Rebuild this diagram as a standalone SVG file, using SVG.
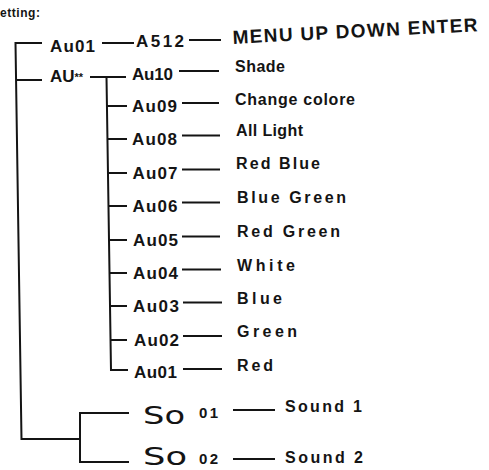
<svg xmlns="http://www.w3.org/2000/svg" width="489" height="470" viewBox="0 0 489 470">
<style>
text{font-family:"Liberation Sans",Arial,sans-serif;font-weight:bold;fill:#141414}
.code{font-size:17px}
.lbl{font-size:16px}
.num{font-size:15px}
.seg{font-size:24px;font-weight:normal;font-family:"DejaVu Sans","Liberation Sans",sans-serif}
#connectors path{fill:none;stroke:#141414;stroke-width:2;stroke-linecap:butt;stroke-linejoin:miter}
</style>
<rect width="489" height="470" fill="#ffffff"/>
<g id="connectors">
<path d="M42 43 H15.5 L21.5 439 H80"/>
<path d="M42 80 H16"/>
<path d="M129 413 H80 V462 H129"/>
<path d="M102 43 H134"/>
<path d="M189 40 H221"/>
<path d="M90 77 H126"/>
<path d="M106.5 77 L111 370 H128"/>
<path d="M107 106 H127"/>
<path d="M107.5 139 H127"/>
<path d="M108 173 H127"/>
<path d="M108.5 206 H127"/>
<path d="M109 240 H127"/>
<path d="M109.5 273 H127"/>
<path d="M110 306 H127"/>
<path d="M110.5 340 H127"/>
<path d="M179 71 H219"/>
<path d="M182 103 H219"/>
<path d="M182 135.5 H220"/>
<path d="M182 169.5 H220"/>
<path d="M182 202.5 H220"/>
<path d="M182 236.5 H220"/>
<path d="M182 269.5 H221"/>
<path d="M183 302.5 H222"/>
<path d="M183 336 H222"/>
<path d="M183 369 H222"/>
<path d="M233 410 H275"/>
<path d="M233 459 H275"/>
</g>
<g id="title"><text x="0" y="17" font-size="12" textLength="40">etting:</text></g>
<g id="au01-top"><text class="code" x="50" y="52" textLength="45">Au01</text></g>
<g id="a512"><text class="code" x="136" y="47" textLength="48">A512</text></g>
<g id="menu"><text x="233" y="44" font-size="19" textLength="245" transform="rotate(-3 233 44)">MENU UP DOWN ENTER</text></g>
<g id="au-group"><text class="code" x="50" y="82">AU<tspan font-size="11" dy="-1">**</tspan></text></g>
<g id="au10"><text class="code" x="132" y="80" textLength="41">Au10</text></g>
<g id="au09"><text class="code" x="132" y="112" textLength="45">Au09</text></g>
<g id="au08"><text class="code" x="132" y="145" textLength="45">Au08</text></g>
<g id="au07"><text class="code" x="132.5" y="179" textLength="45">Au07</text></g>
<g id="au06"><text class="code" x="132.5" y="212" textLength="45">Au06</text></g>
<g id="au05"><text class="code" x="133" y="246" textLength="45">Au05</text></g>
<g id="au04"><text class="code" x="133" y="279" textLength="45">Au04</text></g>
<g id="au03"><text class="code" x="133" y="312" textLength="46">Au03</text></g>
<g id="au02"><text class="code" x="134" y="346" textLength="45">Au02</text></g>
<g id="au01"><text class="code" x="134" y="378" textLength="43">Au01</text></g>
<g id="shade"><text class="lbl" x="235" y="72" textLength="50">Shade</text></g>
<g id="change-colore"><text class="lbl" x="235" y="105" textLength="120">Change colore</text></g>
<g id="all-light"><text class="lbl" x="236" y="136" textLength="67">All Light</text></g>
<g id="red-blue"><text class="lbl" x="236" y="169" textLength="84">Red Blue</text></g>
<g id="blue-green"><text class="lbl" x="237" y="203" textLength="109">Blue Green</text></g>
<g id="red-green"><text class="lbl" x="237" y="237" textLength="103">Red Green</text></g>
<g id="white"><text class="lbl" x="237" y="271" textLength="58">White</text></g>
<g id="blue"><text class="lbl" x="237" y="304" textLength="45">Blue</text></g>
<g id="green"><text class="lbl" x="237" y="337" textLength="60">Green</text></g>
<g id="red"><text class="lbl" x="237" y="371" textLength="36">Red</text></g>
<g id="so01"><text class="seg" x="143" y="424" textLength="42" lengthAdjust="spacingAndGlyphs">So</text><text class="num" x="199" y="418" textLength="19">01</text></g>
<g id="so02"><text class="seg" x="143" y="465" textLength="44" lengthAdjust="spacingAndGlyphs">So</text><text class="num" x="199" y="464" textLength="19">02</text></g>
<g id="sound1"><text class="lbl" x="285" y="412" textLength="77">Sound 1</text></g>
<g id="sound2"><text class="lbl" x="285" y="463" textLength="78">Sound 2</text></g>
</svg>
